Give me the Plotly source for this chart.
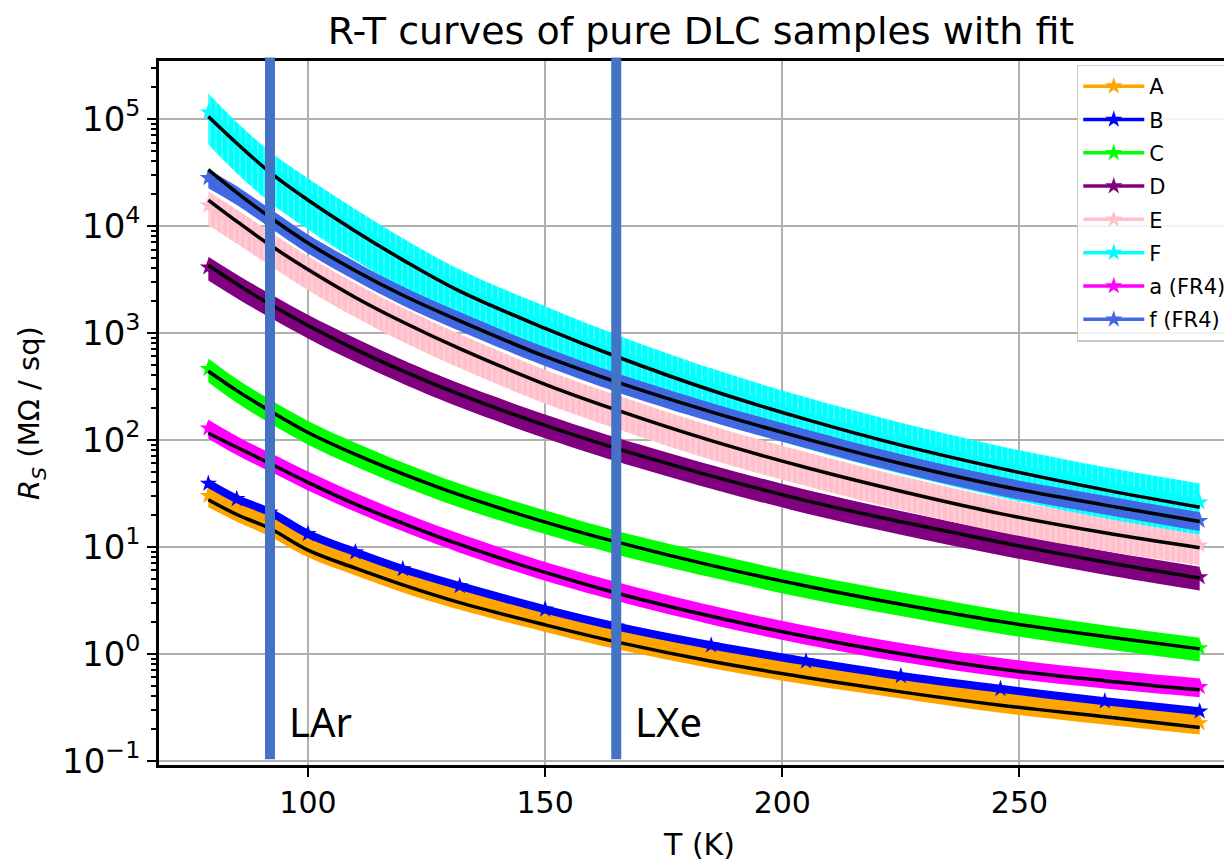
import plotly.graph_objects as go

# temperatures at which values were read (K)
T = [79, 85, 92, 100, 110, 120, 132, 150, 165, 185, 205, 225, 246, 268, 288]

names = ["A", "B", "C", "D", "E", "F", "a (FR4)", "f (FR4)"]
colors = ["orange", "blue", "lime", "purple", "pink", "cyan", "magenta", "royalblue"]

# measured sheet resistance R_S (MOhm / sq)
A_data = [30, 22, 16, 10.2, 6.9, 4.8, 3.3, 2.05, 1.42, 0.94, 0.66, 0.49, 0.36, 0.28, 0.225]
B_data = [39, 28, 21, 13.2, 8.9, 6.2, 4.3, 2.6, 1.8, 1.2, 0.85, 0.62, 0.47, 0.36, 0.29]
C_data = [460, 295, 190, 120, 75, 49, 31, 17.5, 11.3, 6.9, 4.4, 3.0, 2.05, 1.48, 1.13]
D_data = [4100, 2800, 1850, 1180, 710, 445, 268, 138, 84, 46.5, 27.3, 17.3, 11.1, 7.3, 5.2]
E_data = [15500, 10500, 6500, 3850, 2150, 1270, 720, 335, 195, 100, 57, 34, 21, 14, 10.3]
F_data = [115000, 62000, 33000, 18500, 9500, 5100, 2600, 1180, 640, 310, 166, 96, 58, 37, 26]
a_data = [128, 90, 63, 42, 26.5, 17.4, 11, 6.0, 3.9, 2.35, 1.52, 1.05, 0.76, 0.59, 0.49]
f_data = [28000, 19500, 12000, 6900, 3850, 2250, 1300, 610, 350, 184, 104, 61, 37.5, 25, 17.5]

# relative size of the error bars of each sample
err_frac = [0.22, 0.05, 0.25, 0.25, 0.35, 0.5, 0.2, 0.2]

# fitted curves
A_fit = [27.5, 20.0, 14.8, 9.3, 6.3, 4.4, 3.0, 1.86, 1.29, 0.85, 0.60, 0.44, 0.33, 0.257, 0.204]
C_fit = [437, 288, 186, 117, 73, 48, 30.5, 17, 11.1, 6.7, 4.3, 2.9, 2.0, 1.45, 1.11]
D_fit = [4270, 2850, 1845, 1170, 700, 440, 265, 136, 83, 46, 27, 17.1, 11.0, 7.2, 5.1]
E_fit = [17400, 11000, 6600, 3900, 2140, 1260, 710, 330, 190, 98, 55, 33, 20.4, 13.5, 9.8]
F_fit = [105000, 59000, 31600, 17400, 8900, 4800, 2450, 1100, 600, 290, 155, 89, 54, 34, 23.4]
a_fit = [115, 85, 60, 40, 25, 16.6, 10.5, 5.75, 3.7, 2.24, 1.45, 1.0, 0.72, 0.56, 0.46]
f_fit = [33500, 20400, 12000, 6900, 3800, 2240, 1290, 600, 347, 182, 102, 60, 37, 24.5, 17.2]

# liquid noble gas temperatures marked on the plot
ref_T = [92, 165]
ref_labels = ["LAr", "LXe"]

# decades shown on the y axis
y_exp = [-1, 0, 1, 2, 3, 4, 5]

data = [A_data, B_data, C_data, D_data, E_data, F_data, a_data, f_data]
fits = [A_fit, C_fit, D_fit, E_fit, F_fit, a_fit, f_fit]

FONT = "DejaVu Sans"
fig = go.Figure()

for name, col, vals, fr in zip(names, colors, data, err_frac):
    upper = [v * (1 + fr) for v in vals]
    lower = [v * (1 - fr) for v in vals]
    # error band; wide ones get thin gaps like the dense error bars
    band_kw = dict(fillcolor=col)
    if fr >= 0.35:
        band_kw["fillpattern"] = dict(shape="|", fgcolor="white", bgcolor=col,
                                      size=6, solidity=0.15)
    fig.add_trace(go.Scatter(x=T, y=upper, mode="lines", line=dict(width=0, color=col, shape="spline"),
                             showlegend=False, hoverinfo="skip", legendgroup=name))
    fig.add_trace(go.Scatter(x=T, y=lower, mode="lines", line=dict(width=0, color=col, shape="spline"),
                             fill="tonexty", showlegend=False, hoverinfo="skip",
                             legendgroup=name, **band_kw))
    # thick data line (chain of markers)
    fig.add_trace(go.Scatter(x=T, y=vals, mode="lines", line=dict(width=8, color=col, shape="spline"),
                             showlegend=False, hoverinfo="skip", legendgroup=name))
    # points
    fig.add_trace(go.Scatter(x=T, y=vals, mode="lines+markers", name=name, legendgroup=name,
                             line=dict(width=3.5, color=col, shape="spline"),
                             marker=dict(symbol="star", size=13, color=col, line=dict(width=0))))

for fv in fits:
    fig.add_trace(go.Scatter(x=T, y=fv, mode="lines", line=dict(color="black", width=3.5, shape="spline"),
                             showlegend=False, hoverinfo="skip"))

for t, lab in zip(ref_T, ref_labels):
    fig.add_shape(type="line", xref="x", yref="paper", x0=t, x1=t, y0=0.008, y1=1.005,
                  line=dict(color="#4472C4", width=10), layer="above")
    fig.add_annotation(x=t, xref="x", y=0.062, yref="paper", text=lab, showarrow=False,
                       xanchor="left", yanchor="middle", xshift=17,
                       font=dict(family="Noto Sans", size=40, color="black"))

axis_common = dict(showline=True, linecolor="black", linewidth=2.5, mirror=True,
                   ticks="outside", ticklen=9, tickwidth=2, tickcolor="black",
                   showgrid=True, gridcolor="#b0b0b0", gridwidth=2, zeroline=False,
                   automargin=False)

# the page puts the figure 8 px in from the top-left corner
fig.update_layout(
    width=1232, height=862,
    margin=dict(l=151, r=0, t=53, b=105),
    paper_bgcolor="white", plot_bgcolor="white",
    title=dict(text="R-T curves of pure DLC samples with fit", x=693 / 1232, xref="container",
               xanchor="center", y=1 - 23 / 862, yanchor="middle",
               font=dict(family=FONT, size=38, color="black")),
    xaxis=dict(range=[68.6, 296.5], dtick=50,
               tickfont=dict(family=FONT, size=30, color="black"),
               title=dict(text="T (K)", standoff=16, font=dict(family=FONT, size=30, color="black")),
               **axis_common),
    yaxis=dict(type="log", range=[-1.04, 5.54],
               tickvals=[10.0 ** e for e in y_exp],
               ticktext=["10<sup>%s</sup>" % str(e).replace("-", "\u2212") for e in y_exp],
               tickfont=dict(family=FONT, size=34, color="black"),
               minor=dict(ticks="outside", ticklen=5, tickwidth=1.5, tickcolor="black",
                          dtick="D1", showgrid=False),
               title=dict(text="<i>R</i><sub><i>S</i></sub> (MΩ / sq)", standoff=14,
                          font=dict(family=FONT, size=29, color="black")),
               **axis_common),
    legend=dict(x=0.849, y=0.995, xanchor="left", yanchor="top",
                bgcolor="rgba(255,255,255,0.85)", bordercolor="#cccccc", borderwidth=1.5,
                font=dict(family=FONT, size=21, color="black"), tracegroupgap=3,
                itemwidth=61),
    showlegend=True,
)

fig.write_html("out.html")
